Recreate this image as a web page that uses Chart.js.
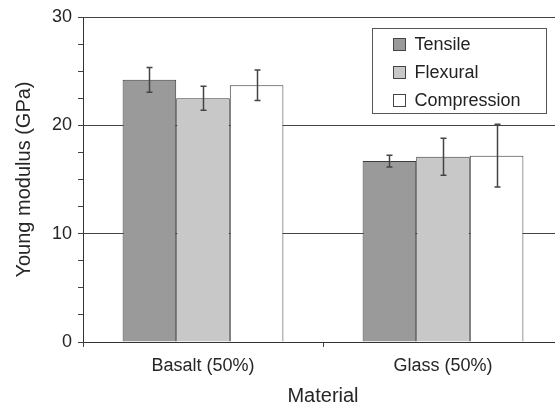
<!DOCTYPE html>
<html>
<head>
<meta charset="utf-8">
<script src="https://cdn.jsdelivr.net/npm/chart.js@4/dist/chart.umd.min.js"></script>
<style>
  html, body { margin: 0; padding: 0; background: #fff; }
  #wrap { width: 555px; height: 408px; overflow: hidden; }
  canvas { display: block; }
</style>
</head>
<body>
<div id="wrap"><canvas id="chart" width="580" height="408"></canvas></div>
<script>
// Data
const materials = ['Basalt (50%)', 'Glass (50%)'];
const seriesNames = ['Tensile', 'Flexural', 'Compression'];
const tensile = [24.2, 16.7];
const flexural = [22.5, 17.1];
const compression = [23.7, 17.2];
const tensileErr = [1.15, 0.55];
const flexuralErr = [1.1, 1.7];
const compressionErr = [1.4, 2.9];
const yTicks = [0, 10, 20, 30];

const fills = ['#9a9a9a', '#c8c8c8', '#ffffff'];
const errors = [tensileErr, flexuralErr, compressionErr];
const FONT = '"Liberation Sans", Arial, sans-serif';

// error bars drawn on top of the bars
const errorBars = {
	id: 'errorBars',
	afterDatasetsDraw(chart) {
		const ctx = chart.ctx;
		const y = chart.scales.y;
		ctx.save();
		ctx.strokeStyle = '#444';
		ctx.lineWidth = 1.5;
		chart.data.datasets.forEach((ds, i) => {
			const meta = chart.getDatasetMeta(i);
			meta.data.forEach((bar, j) => {
				const v = ds.data[j];
				const e = errors[i][j];
				const top = y.getPixelForValue(v + e);
				const bot = y.getPixelForValue(v - e);
				const x = Math.round(bar.x) + 0.5;
				ctx.beginPath();
				ctx.moveTo(x, top);
				ctx.lineTo(x, bot);
				ctx.moveTo(x - 3, top);
				ctx.lineTo(x + 3, top);
				ctx.moveTo(x - 3, bot);
				ctx.lineTo(x + 3, bot);
				ctx.stroke();
			});
		});
		ctx.restore();
	}
};

// boxed legend inside the plot, top right
const boxLegend = {
	id: 'boxLegend',
	afterDraw(chart) {
		const ctx = chart.ctx;
		const area = chart.chartArea;
		const bx = area.right - 190.5;
		const by = area.top + 11.5;
		ctx.save();
		ctx.fillStyle = '#fff';
		ctx.fillRect(bx, by, 174, 85);
		ctx.strokeStyle = '#555';
		ctx.lineWidth = 1;
		ctx.strokeRect(bx, by, 174, 85);
		ctx.font = '18px ' + FONT;
		ctx.textBaseline = 'middle';
		ctx.textAlign = 'left';
		seriesNames.forEach((name, i) => {
			const cy = by + 16 + i * 28;
			ctx.fillStyle = fills[i];
			ctx.fillRect(bx + 21, cy - 6, 12, 12);
			ctx.strokeStyle = '#444';
			ctx.strokeRect(bx + 21, cy - 6, 12, 12);
			ctx.fillStyle = '#222';
			ctx.fillText(name, bx + 42, cy + 1);
		});
		ctx.restore();
	}
};

const datasets = [tensile, flexural, compression].map((vals, i) => ({
	label: seriesNames[i],
	data: vals,
	backgroundColor: fills[i],
	borderColor: '#3c3c3c',
	borderWidth: 1,
	categoryPercentage: 0.67,
	barPercentage: 1.0
}));

new Chart(document.getElementById('chart'), {
	type: 'bar',
	data: { labels: materials, datasets: datasets },
	options: {
		responsive: false,
		animation: false,
		layout: { padding: { left: 0, right: 17, top: 17, bottom: 0 } },
		plugins: {
			legend: { display: false },
			tooltip: { enabled: false }
		},
		scales: {
			x: {
				grid: {
					offset: true,
					drawOnChartArea: false,
					tickLength: 5,
					tickColor: '#444'
				},
				border: { color: '#333', width: 1 },
				ticks: {
					color: '#262626',
					font: { family: FONT, size: 18 },
					padding: 8
				},
				title: {
					display: true,
					text: 'Material',
					color: '#262626',
					font: { family: FONT, size: 20 },
					padding: { top: 0, bottom: 0 }
				},
				afterFit(scale) { scale.height = 66; }
			},
			y: {
				min: 0,
				max: 30,
				ticks: {
					stepSize: 2.5,
					color: '#262626',
					font: { family: FONT, size: 18 },
					padding: 6,
					callback: (v) => yTicks.includes(v) ? v : ''
				},
				grid: {
					tickLength: 5,
					tickColor: '#444',
					color: (c) => (c.tick && c.tick.value > 0 && c.tick.value % 10 === 0) ? '#444' : 'rgba(0,0,0,0)',
					lineWidth: 1
				},
				border: { color: '#333', width: 1 },
				title: {
					display: true,
					text: 'Young modulus (GPa)',
					color: '#262626',
					font: { family: FONT, size: 20 },
					padding: { top: 12, bottom: 0 }
				},
				afterFit(scale) { scale.width = 83; }
			}
		}
	},
	plugins: [errorBars, boxLegend]
});
</script>
</body>
</html>
